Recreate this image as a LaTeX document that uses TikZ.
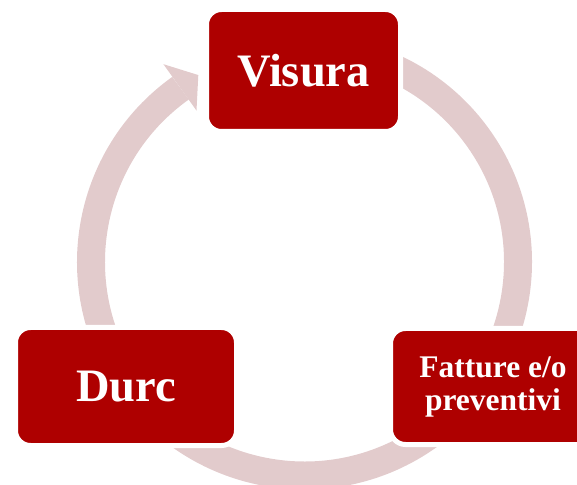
\documentclass[tikz,border=0pt]{standalone}
\usepackage{fontspec}
\setmainfont{Liberation Serif}
\definecolor{boxred}{RGB}{174,0,0}
\definecolor{ringc}{RGB}{226,203,204}
\begin{document}
\begin{tikzpicture}[x=1pt,y=1pt,
  stepbox/.style={rectangle, rounded corners=15pt, fill=boxred, draw=white,
    line width=5pt, text=white, inner sep=0pt, align=center,
    font=\bfseries\fontsize{46.5}{48}\selectfont},
  ring/.style={line width=28pt, draw=ringc},
  ringhead/.style={fill=ringc, draw=none}]
\useasboundingbox (0,0) rectangle (577,484);
\coordinate (C) at (304.5,222);
% cycle ring
\draw[ring] ([shift={(125.5:213.5pt)}]C) arc[start angle=125.5, end angle=460, radius=213.5pt];
\fill[ringhead] ([shift={(125.5:243pt)}]C) -- ([shift={(119.6:215pt)}]C) -- ([shift={(125.5:186pt)}]C) -- cycle;
% boxes
\node[stepbox, minimum width=194pt, minimum height=122pt] (visura) at (303.5,413.5) {Visura};
\node[stepbox, minimum width=221pt, minimum height=118pt] (durc) at (126,97.5) {Durc};
\node[stepbox, minimum width=205pt, minimum height=116pt, font=\bfseries\fontsize{31.5}{33}\selectfont] (fatture) at (493,97.5) {Fatture e/o\\preventivi};
\end{tikzpicture}
\end{document}
